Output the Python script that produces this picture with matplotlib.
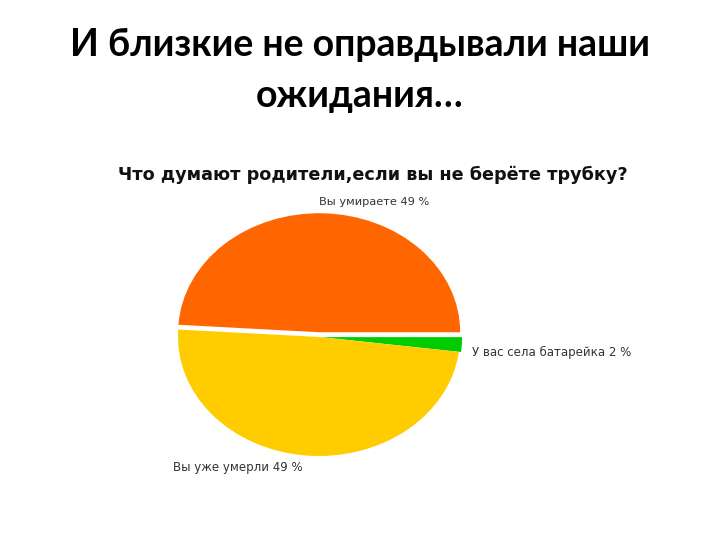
import matplotlib
matplotlib.use("Agg")
import matplotlib.pyplot as plt

labels = ["Вы умираете 49 %", "У вас села батарейка 2 %", "Вы уже умерли 49 %"]
values = [49, 2, 49]
colors = ["#FF6600", "#00CC00", "#FFCC00"]
explode = [0.04, 0.015, 0.0]

W, H = 720, 540
fig = plt.figure(figsize=(W / 100, H / 100), dpi=100)
fig.patch.set_facecolor("white")

def px(x, y):
    return x / W, 1 - y / H

# main heading
fig.text(*px(360, 45), "И близкие не оправдывали наши", ha="center", va="center",
         fontsize=27, family="Lato", fontweight="bold", color="#000000")
fig.text(*px(360, 96), "ожидания…", ha="center", va="center",
         fontsize=27, family="Lato", fontweight="bold", color="#000000")

# chart title
fig.text(*px(373, 175), "Что думают родители,если вы не берёте трубку?", ha="center",
         va="center", fontsize=12.7, fontweight="bold", family="DejaVu Sans", color="#111111")

# pie axes: center (319,337), half-width 141, half-height 119, limits ±1.2
cx, cy, rx, ry = 319, 337, 141, 119
lim = 1.2
ax = fig.add_axes([(cx - rx * lim) / W, 1 - (cy + ry * lim) / H, 2 * rx * lim / W, 2 * ry * lim / H])
ax.pie(values, colors=colors, explode=explode, startangle=176.4, counterclock=False,
       wedgeprops=dict(linewidth=0))
ax.set_xlim(-lim, lim)
ax.set_ylim(-lim, lim)
ax.set_aspect("auto")
ax.axis("off")

fs = 8.5
fig.text(*px(374, 202), labels[0], ha="center", va="center", fontsize=8.2, color="#333333")
fig.text(*px(472, 352), labels[1], ha="left", va="center", fontsize=fs, color="#333333")
fig.text(*px(173, 467), labels[2], ha="left", va="center", fontsize=fs, color="#333333")

fig.savefig("out.png", dpi=100, facecolor="white")
